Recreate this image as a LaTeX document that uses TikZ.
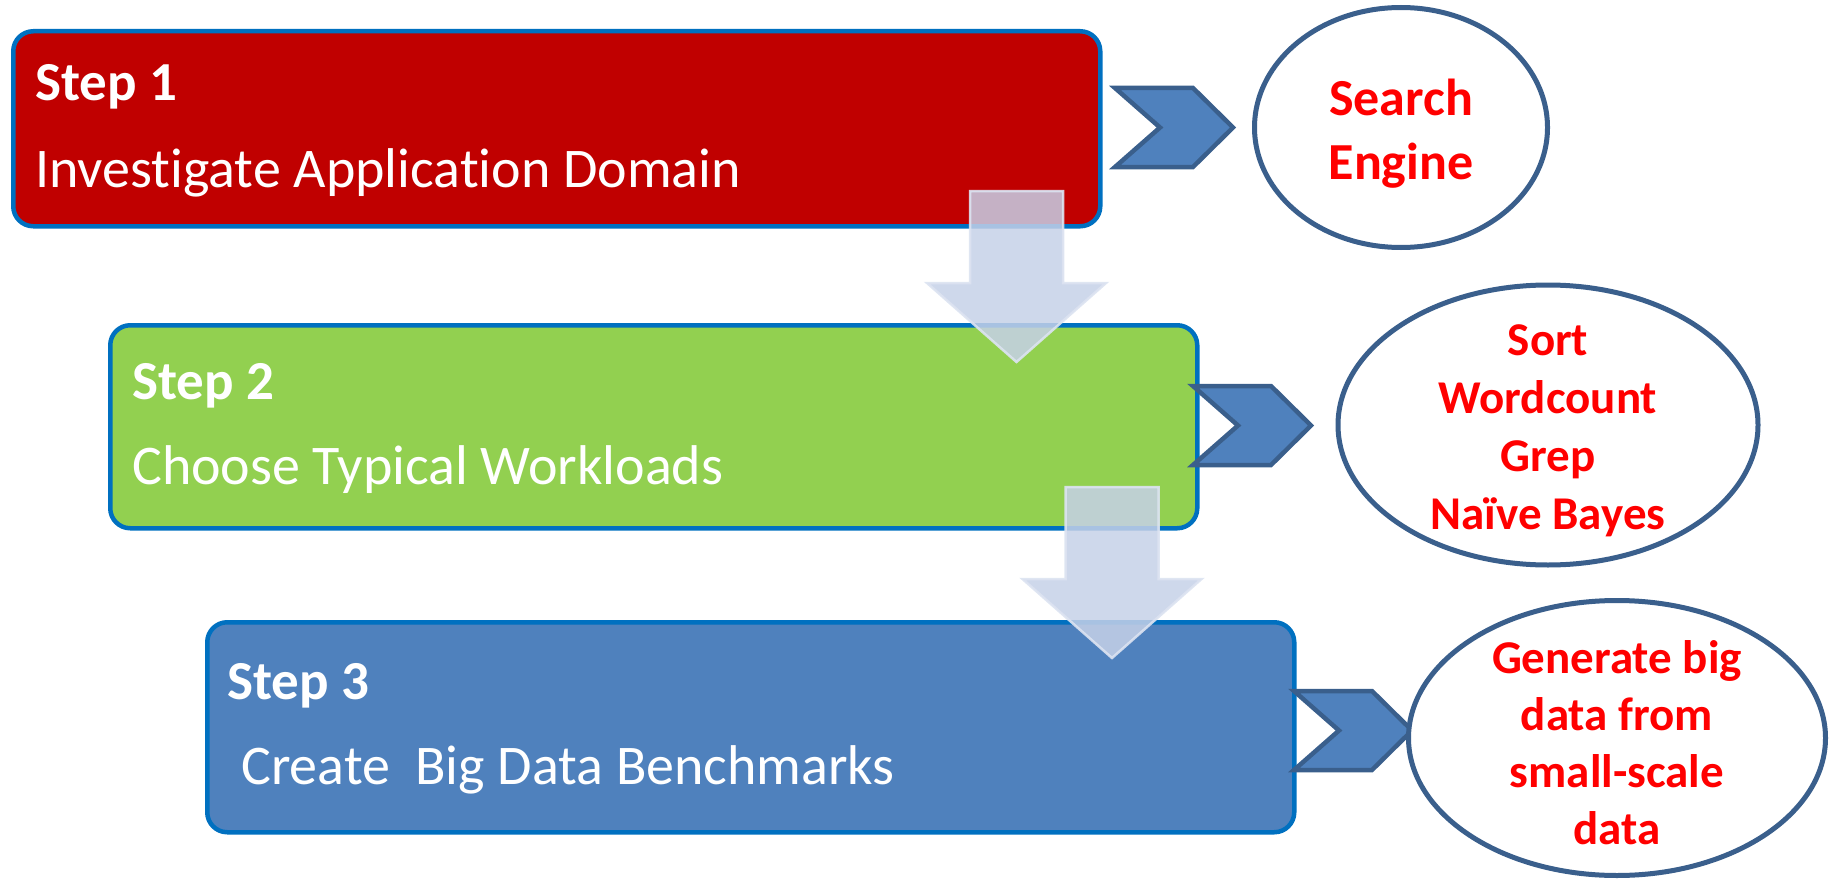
\documentclass[tikz,border=0pt]{standalone}
\usepackage{fontspec}
\setmainfont{Carlito}[Ligatures=NoCommon]
\usetikzlibrary{shapes.geometric}

\definecolor{stepred}{HTML}{C00000}
\definecolor{stepgreen}{HTML}{92D050}
\definecolor{stepblue}{HTML}{4F81BD}
\definecolor{boxrim}{HTML}{0070C0}
\definecolor{chevrim}{HTML}{3A5F8C}
\definecolor{flowfill}{HTML}{C6D1E8}
\definecolor{flowrim}{HTML}{DCE3F1}
\definecolor{outred}{HTML}{FF0000}

\tikzset{
  stepbox/.style={draw=boxrim, line width=4.5pt, rounded corners=20pt,
    minimum width=1087pt, anchor=north west, inner sep=0pt},
  steptitle/.style={text=white, font=\fontsize{55}{66}\selectfont\bfseries,
    anchor=base west, inner sep=0pt},
  steptext/.style={text=white, font=\fontsize{56}{67}\selectfont,
    anchor=base west, inner sep=0pt},
  outcome/.style={ellipse, draw=chevrim, line width=5pt, fill=white,
    inner sep=0pt},
  outtext/.style={align=center, text=outred, inner sep=0pt},
  chevstyle/.style={draw=chevrim, line width=4.5pt, fill=stepblue, line join=miter},
  flowstyle/.style={draw=flowrim, line width=2.5pt, fill=flowfill, fill opacity=0.85,
    draw opacity=0.9},
  chevron/.pic={
    \path[chevstyle] (0,-39.5) -- (78,-39.5) -- (118,0) -- (78,39.5)
      -- (0,39.5) -- (45,0) -- cycle;
  },
  downflow/.pic={
    \path[flowstyle] (-46.5,0) -- (46.5,0) -- (46.5,92) -- (89.5,92)
      -- (0,171) -- (-89.5,92) -- (-46.5,92) -- cycle;
  }
}

\begin{document}
\begin{tikzpicture}[x=1pt, y=-1pt]
  \useasboundingbox (0,0) rectangle (1831,880);

  % the three step boxes
  \node[stepbox, fill=stepred,   minimum height=195pt] (box1) at (11,29)  {};
  \node[stepbox, fill=stepgreen, minimum height=203pt] (box2) at (108,323) {};
  \node[stepbox, fill=stepblue,  minimum height=210pt] (box3) at (205,620) {};

  % step titles and descriptions
  \node[steptitle] (title1) at (35,101)  {Step 1};
  \node[steptext]  (text1)  at (35,187) {Investigate Application Domain};
  \node[steptitle] (title2) at (132,399) {Step 2};
  \node[steptext]  (text2)  at (132,484) {Choose Typical Workloads};
  \node[steptitle] (title3) at (227,699) {Step 3};
  \node[steptext]  (text3)  at (241,784) {Create\ \ Big Data Benchmarks};

  % translucent arrows leading from one step to the next
  \pic (flow1) at (1016.5,191) {downflow};
  \pic (flow2) at (1112,487)   {downflow};

  % chevrons pointing at the outcomes
  \pic (chev1) at (1115,127.5) {chevron};
  \pic (chev2) at (1193,425.5) {chevron};
  \pic (chev3) at (1294,730.5) {chevron};

  % outcome ellipses
  \node[outcome, minimum width=293pt, minimum height=240pt] (out1) at (1401,127.5) {};
  \node[outcome, minimum width=420pt, minimum height=280pt] (out2) at (1548,425) {};
  \node[outcome, minimum width=417pt, minimum height=275pt] (out3) at (1617,738) {};

  % outcome labels
  \node[outtext, font=\fontsize{52}{64}\selectfont\bfseries]
    (lab1) at ([yshift=-6pt]out1.center) {Search\\Engine};
  \node[outtext, font=\fontsize{47}{58}\selectfont\bfseries]
    (lab2) at ([yshift=-6pt]out2.center) {Sort\\Wordcount\\Grep\\Naïve Bayes};
  \node[outtext, font=\fontsize{47}{57}\selectfont\bfseries]
    (lab3) at ([yshift=-5pt]out3.center) {Generate big\\data from\\small-scale\\data};
\end{tikzpicture}
\end{document}
